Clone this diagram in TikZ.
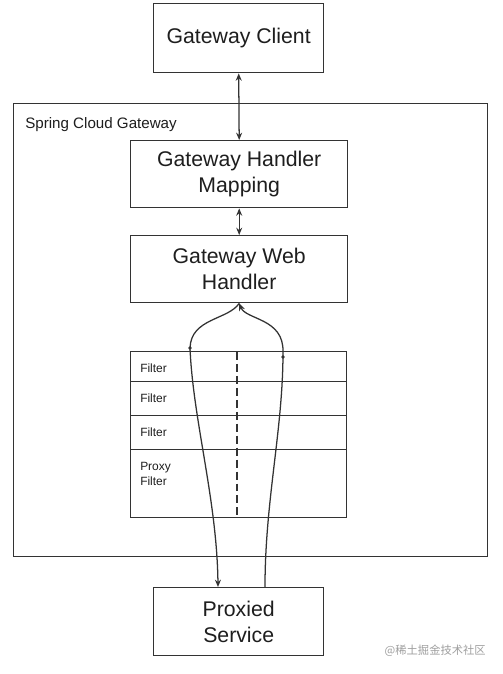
\documentclass[tikz,border=0pt]{standalone}
\usepackage{fontspec}
\setmainfont{Liberation Sans}
\newfontfamily\cjk{Noto Sans CJK SC}
\usetikzlibrary{arrows.meta}
\definecolor{ln}{HTML}{333333}
\definecolor{tx}{HTML}{1E1E1E}
\tikzset{
  box/.style={draw=ln, line width=1.05pt, fill=white, text=tx, font=\fontsize{16}{19.5}\selectfont, align=center, inner sep=0pt},
  cell/.style={draw=ln, line width=1.05pt, inner sep=0pt},
  small/.style={text=tx, font=\fontsize{9}{11.5}\selectfont, align=left, anchor=north west, inner sep=0pt},
  conn/.style={draw=ln, line width=0.95pt},
  tip/.style={-{Stealth[length=5.5pt,width=4.5pt]}},
  tips/.style={{Stealth[length=5.5pt,width=4.5pt]}-{Stealth[length=5.5pt,width=4.5pt]}}
}
\begin{document}
\begin{tikzpicture}[x=0.0264583cm, y=-0.0264583cm]
\useasboundingbox (0,0) rectangle (502,674);
\fill[white] (0,0) rectangle (502,674);
% outer frame
\node[cell, minimum width=474*0.0264583cm, minimum height=453*0.0264583cm, anchor=north west] (outer) at (13,103) {};
\node[text=tx, font=\fontsize{11.4}{13}\selectfont, anchor=west, inner sep=0pt] (sclabel) at (25,125) {Spring Cloud Gateway};
% boxes
\node[box, minimum width=170*0.0264583cm, minimum height=69*0.0264583cm, anchor=north west] (client) at (153,3) {\raisebox{-2pt}{Gateway Client}};
\node[box, minimum width=217*0.0264583cm, minimum height=67*0.0264583cm, anchor=north west] (hm) at (130,140) {Gateway Handler\\Mapping};
\node[box, minimum width=217*0.0264583cm, minimum height=67*0.0264583cm, anchor=north west] (wh) at (130,235) {Gateway Web\\Handler};
\node[box, minimum width=170*0.0264583cm, minimum height=68*0.0264583cm, anchor=north west] (proxied) at (153,587) {Proxied\\Service};
% filter table
\node[cell, minimum width=216*0.0264583cm, minimum height=30*0.0264583cm, anchor=north west] (f1) at (130,351) {};
\node[cell, minimum width=216*0.0264583cm, minimum height=34*0.0264583cm, anchor=north west] (f2) at (130,381) {};
\node[cell, minimum width=216*0.0264583cm, minimum height=34*0.0264583cm, anchor=north west] (f3) at (130,415) {};
\node[cell, minimum width=216*0.0264583cm, minimum height=68*0.0264583cm, anchor=north west] (f4) at (130,449) {};
\node[small] (l1) at (140,364) {Filter};
\node[small] (l2) at (140,394) {Filter};
\node[small] (l3) at (140,428) {Filter};
\node[small] (l4) at (140,462) {Proxy\\Filter};
\coordinate (dtop) at (237,352);
\coordinate (dbot) at (237,517);
\draw[conn, dashed, dash pattern=on 6pt off 3pt] (dtop) -- (dbot);
% arrows
\draw[conn, tips] (client.south) -- (hm.north);
\draw[conn, tips] (hm.south) -- (wh.north);
\coordinate (lk) at (190,348);
\coordinate (rk) at (283,352);
\draw[conn, tip] (wh.south) .. controls (228,320) and (191,318) .. (lk)
  .. controls (193,420) and (217,500) .. (proxied.north -| 218,0);
\draw[conn, tip] (proxied.north -| 265,0) .. controls (265,500) and (283,430) .. (rk)
  .. controls (284,318) and (246,320) .. (wh.south);
\fill[ln] (lk) circle (1.8);
\fill[ln] (283,357) circle (1.8);
% watermark
\node[text=gray!75, font=\cjk\fontsize{8.5}{10}\selectfont, anchor=east, inner sep=0pt] (wm) at (486,651) {@稀土掘金技术社区};
\end{tikzpicture}
\end{document}
